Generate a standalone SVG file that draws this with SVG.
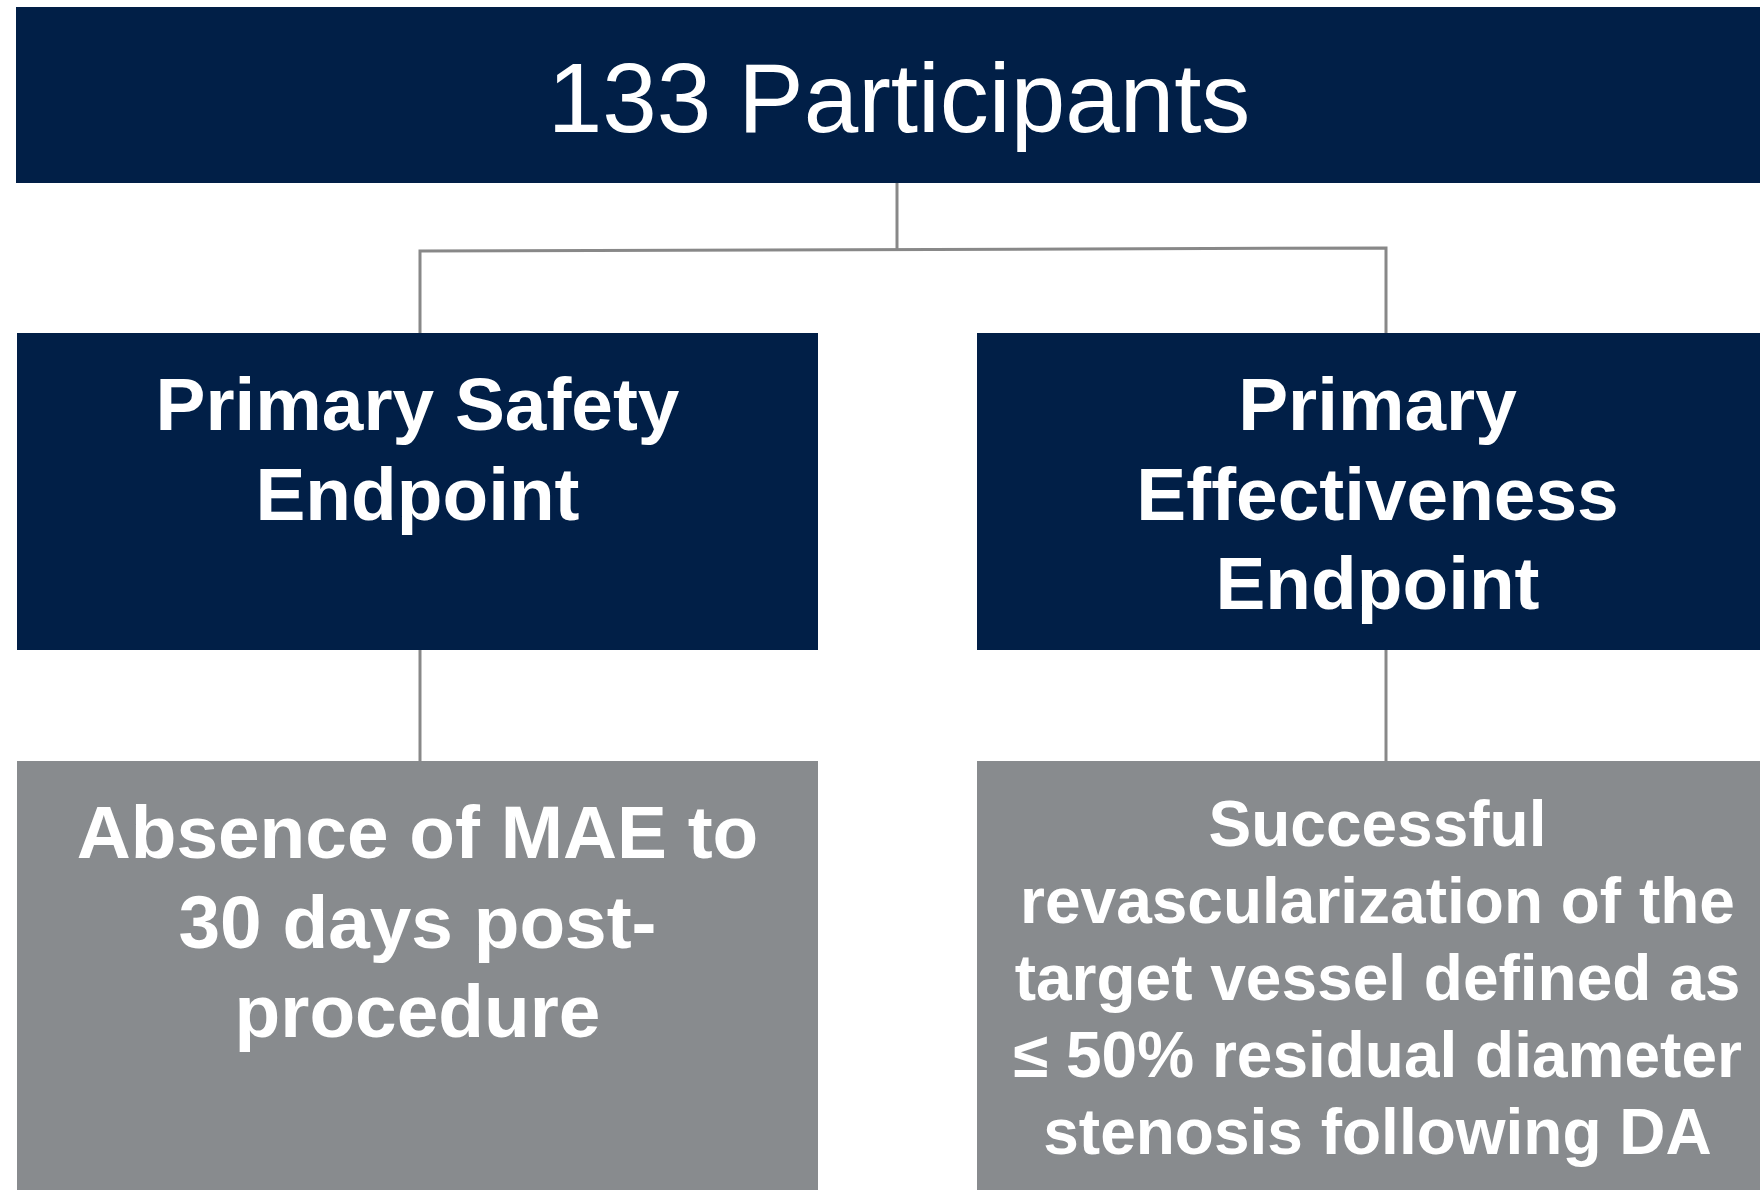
<svg xmlns="http://www.w3.org/2000/svg" width="1760" height="1190" viewBox="0 0 1760 1190">
  <style>
    .navy { fill: #011f47; }
    .grey { fill: #888b8e; }
    .wire { fill: none; stroke: #888888; stroke-width: 3; }
    .title { font-family: "Liberation Sans", Arial, sans-serif; fill: #ffffff; text-anchor: middle; }
    .bold { font-weight: bold; }
    .big { font-size: 74.8px; }
    .small { font-size: 64px; }
  </style>
  <rect width="1760" height="1190" fill="#ffffff"/>

  <!-- connectors -->
  <g id="connectors">
    <path class="wire" d="M897,183 L897,249.5"/>
    <path class="wire" d="M420,333 L420,251 L1386,248 L1386,333"/>
    <path class="wire" d="M420,650 L420,761"/>
    <path class="wire" d="M1386,650 L1386,761"/>
  </g>

  <!-- top node -->
  <g id="participants">
    <rect class="navy" x="16" y="7" width="1770" height="176"/>
    <text class="title" x="899" y="132" font-size="98">133 Participants</text>
  </g>

  <!-- endpoint nodes -->
  <g id="safety-endpoint">
    <rect class="navy" x="17" y="333" width="801" height="317"/>
    <text class="title bold big" x="417.5" y="430">Primary Safety</text>
    <text class="title bold big" x="417.5" y="520">Endpoint</text>
  </g>

  <g id="effectiveness-endpoint">
    <rect class="navy" x="977" y="333" width="801" height="317"/>
    <text class="title bold big" x="1377.5" y="430">Primary</text>
    <text class="title bold big" x="1377.5" y="520">Effectiveness</text>
    <text class="title bold big" x="1377.5" y="609">Endpoint</text>
  </g>

  <!-- definition nodes -->
  <g id="safety-definition">
    <rect class="grey" x="17" y="761" width="801" height="440"/>
    <text class="title bold big" x="417.5" y="858">Absence of MAE to</text>
    <text class="title bold big" x="417.5" y="948">30 days post-</text>
    <text class="title bold big" x="417.5" y="1037">procedure</text>
  </g>

  <g id="effectiveness-definition">
    <rect class="grey" x="977" y="761" width="801" height="440"/>
    <text class="title bold small" x="1377.5" y="846">Successful</text>
    <text class="title bold small" x="1377.5" y="923">revascularization of the</text>
    <text class="title bold small" x="1377.5" y="1000">target vessel defined as</text>
    <text class="title bold small" x="1377.5" y="1077">≤ 50% residual diameter</text>
    <text class="title bold small" x="1377.5" y="1154">stenosis following DA</text>
  </g>
</svg>
